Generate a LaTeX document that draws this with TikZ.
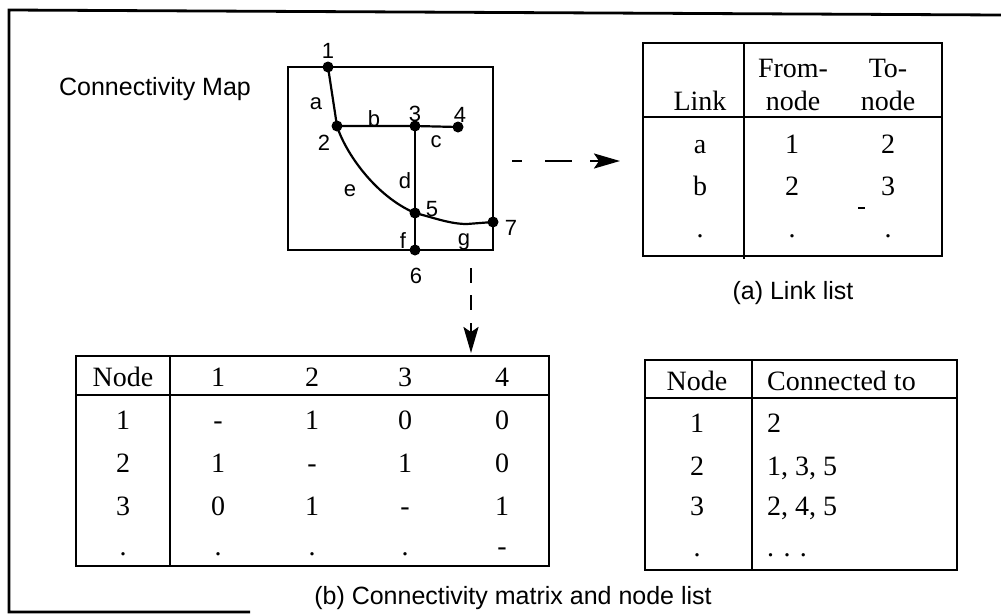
\documentclass[tikz,border=0pt]{standalone}
\usepackage{fontspec}
\setmainfont{Liberation Serif}
\setsansfont{Liberation Sans}
\usetikzlibrary{arrows.meta}
\begin{document}
\begin{tikzpicture}[x=1pt,y=-1pt,
  frame/.style={line width=2.8pt},
  tab/.style={line width=2.6pt},
  mapline/.style={line width=2.2pt},
  dot/.style={circle,fill=black,inner sep=0pt,minimum size=11pt},
  lab/.style={font=\fontsize{22}{22}\sffamily,inner sep=0pt},
  captxt/.style={font=\fontsize{25}{25}\sffamily,inner sep=0pt},
  cell/.style={font=\fontsize{28}{28}\rmfamily,inner sep=0pt,anchor=base},
  dasharrow/.style={line width=2.4pt,-{Stealth[length=26pt,width=15pt,inset=5pt]}},
]
\useasboundingbox (0,0) rectangle (1001,614);
% outer frame
\draw[frame] (250,612) -- (9,612) -- (9,10) -- (1001,15);

% connectivity map
\node[captxt] (title) at (155,89) {Connectivity Map};
\draw[mapline] (288,67) rectangle (493,250);
\node[dot] (n1) at (328,67) {};
\node[dot] (n2) at (337,126) {};
\node[dot] (n3) at (415,126) {};
\node[dot] (n4) at (458,127) {};
\node[dot] (n5) at (415,213) {};
\node[dot] (n6) at (415,250) {};
\node[dot] (n7) at (493,222) {};
\coordinate (gdip) at (467,224);
\draw[mapline] (n1.center) -- (n2.center);
\draw[mapline] (n2.center) -- (n3.center) -- (n4.center);
\draw[mapline] (n3.center) -- (n5.center) -- (n6.center);
\draw[mapline] (n2.center) .. controls (345,152) and (375,196) .. (n5.center);
\draw[mapline] (n5.center) .. controls (435,218) and (450,224) .. (gdip) -- (n7.center);
\node[lab] (l1) at (328,51) {1};
\node[lab] (l2) at (324,143) {2};
\node[lab] (l3) at (415,114) {3};
\node[lab] (l4) at (460,115) {4};
\node[lab] (l5) at (432,209) {5};
\node[lab] (l6) at (416,276) {6};
\node[lab] (l7) at (511,228) {7};
\node[lab] (la) at (316,104) {a};
\node[lab] (lb) at (374,119) {b};
\node[lab] (lc) at (436,142) {c};
\node[lab] (ld) at (405,181) {d};
\node[lab] (le) at (350,191) {e};
\node[lab] (lf) at (403,241) {f};
\node[lab] (lg) at (464,242) {g};

% link list table
\draw[tab] (643,43) rectangle (942,256);
\draw[tab] (643,117) -- (942,117);
\draw[tab] (744,43) -- (744,259);
\node[cell] (hLink) at (700,110) {Link};
\node[cell] (hFrom1) at (793,77) {From-};
\node[cell] (hFrom2) at (793,110) {node};
\node[cell] (hTo1) at (888,77) {To-};
\node[cell] (hTo2) at (888,110) {node};
\node[cell] (ra1) at (700,153) {a};
\node[cell] (ra2) at (792,153) {1};
\node[cell] (ra3) at (888,153) {2};
\node[cell] (rb1) at (700,195) {b};
\node[cell] (rb2) at (792,195) {2};
\node[cell] (rb3) at (888,195) {3};
\node[cell] (rc1) at (700,237) {.};
\node[cell] (rc2) at (792,237) {.};
\node[cell] (rc3) at (888,237) {.};
\draw[line width=1.2pt] (858,208) -- (865,208);
\node[captxt] (capa) at (793,293) {(a) Link list};

% arrows
\coordinate (ra) at (512,161);
\coordinate (rb) at (620,161);
\draw[dasharrow,dash pattern=on 10pt off 23pt on 27pt off 18pt] (ra) -- (rb);
\coordinate (da) at (471,268);
\coordinate (db) at (471,353);
\draw[dasharrow,dash pattern=on 15pt off 12pt on 15pt off 13pt] (da) -- (db);

% connectivity matrix
\draw[tab] (76,356) rectangle (549,566);
\draw[tab] (76,395) -- (549,395);
\draw[tab] (170,356) -- (170,566);
\node[cell] (mh0) at (123,386) {Node};
\node[cell] (mh1) at (218,386) {1};
\node[cell] (mh2) at (312,386) {2};
\node[cell] (mh3) at (405,386) {3};
\node[cell] (mh4) at (502,386) {4};
\node[cell] (m10) at (123,429) {1};
\node[cell] (m11) at (218,429) {-};
\node[cell] (m12) at (312,429) {1};
\node[cell] (m13) at (405,429) {0};
\node[cell] (m14) at (502,429) {0};
\node[cell] (m20) at (123,472) {2};
\node[cell] (m21) at (218,472) {1};
\node[cell] (m22) at (312,472) {-};
\node[cell] (m23) at (405,472) {1};
\node[cell] (m24) at (502,472) {0};
\node[cell] (m30) at (123,515) {3};
\node[cell] (m31) at (218,515) {0};
\node[cell] (m32) at (312,515) {1};
\node[cell] (m33) at (405,515) {-};
\node[cell] (m34) at (502,515) {1};
\node[cell] (m40) at (123,555) {.};
\node[cell] (m41) at (218,555) {.};
\node[cell] (m42) at (312,555) {.};
\node[cell] (m43) at (405,555) {.};
\node[cell] (m44) at (502,555) {-};

% node list
\draw[tab] (645,360) rectangle (957,570);
\draw[tab] (645,398) -- (957,398);
\draw[tab] (752,360) -- (752,570);
\node[cell] (nh0) at (697,390) {Node};
\node[cell,anchor=base west] (nh1) at (767,390) {Connected to};
\node[cell] (nr10) at (697,432) {1};
\node[cell,anchor=base west] (nr11) at (767,432) {2};
\node[cell] (nr20) at (697,475) {2};
\node[cell,anchor=base west] (nr21) at (767,475) {1, 3, 5};
\node[cell] (nr30) at (697,515) {3};
\node[cell,anchor=base west] (nr31) at (767,515) {2, 4, 5};
\node[cell] (nr40) at (697,556) {.};
\node[cell,anchor=base west] (nr41) at (767,556) {.\,\,.\,\,.};

\node[captxt] (capb) at (513,598) {(b) Connectivity matrix and node list};
\end{tikzpicture}
\end{document}
